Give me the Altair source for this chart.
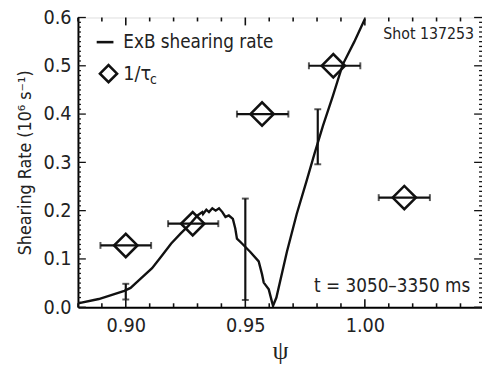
import altair as alt
import pandas as pd

# ExB shearing rate curve
curve_psi = [0.880, 0.8887, 0.8939, 0.8994, 0.902, 0.906, 0.911, 0.915, 0.919, 0.923, 0.9265,
             0.930, 0.932, 0.9323, 0.9337, 0.9348, 0.9362, 0.9376, 0.939, 0.9404, 0.9417,
             0.9431, 0.9448, 0.9458, 0.9465, 0.9486, 0.952, 0.9556, 0.957, 0.9577, 0.9598,
             0.9612, 0.9616, 0.963, 0.9674, 0.9715, 0.9756, 0.979, 0.9825, 0.9866, 0.9907,
             0.9955, 1.000]
curve_rate = [0.008, 0.017, 0.025, 0.034, 0.040, 0.058, 0.081, 0.106, 0.132, 0.153, 0.170,
              0.190, 0.197, 0.193, 0.202, 0.197, 0.205, 0.200, 0.205, 0.197, 0.187,
              0.190, 0.183, 0.163, 0.142, 0.132, 0.115, 0.095, 0.068, 0.051, 0.037,
              0.010, 0.003, 0.020, 0.115, 0.193, 0.261, 0.319, 0.376, 0.437, 0.502,
              0.549, 0.597]

# 1/tau_c points with horizontal error bars
pt_psi = [0.900, 0.928, 0.957, 0.9868, 1.0165]
pt_rate = [0.128, 0.173, 0.400, 0.500, 0.227]
pt_lo = [0.8894, 0.9177, 0.9465, 0.9766, 1.0058]
pt_hi = [0.9106, 0.9387, 0.9680, 0.9981, 1.0272]

# vertical error bars on the curve
ve_psi = [0.900, 0.950, 0.9803]
ve_lo = [0.016, 0.015, 0.296]
ve_hi = [0.0485, 0.225, 0.410]

x_major = [0.90, 0.95, 1.00]
x_minor = [0.88, 0.89, 0.91, 0.92, 0.93, 0.94, 0.96, 0.97, 0.98, 0.99, 1.01, 1.02, 1.03, 1.04]
y_major = [0.0, 0.1, 0.2, 0.3, 0.4, 0.5, 0.6]
y_minor = [round(i * 0.01, 2) for i in range(61) if i % 10 != 0]

W, H = 410, 294
FONT = "'Liberation Sans Narrow', 'DejaVu Sans Condensed', 'Roboto Condensed', 'Liberation Sans', sans-serif"

xs = alt.Scale(domain=[0.88, 1.049], nice=False, zero=False)
ys = alt.Scale(domain=[0.0, 0.6], nice=False)

curve_df = pd.DataFrame({"psi": curve_psi, "rate": curve_rate})
pt_df = pd.DataFrame({"psi": pt_psi, "rate": pt_rate, "lo": pt_lo, "hi": pt_hi})
ve_df = pd.DataFrame({"psi": ve_psi, "lo": ve_lo, "hi": ve_hi})

xaxis = alt.Axis(values=x_major, format=".2f", ticks=False, grid=False, domainColor="black",
                 domainWidth=2, labelFont=FONT, labelFontSize=20, labelColor="#222",
                 labelPadding=9, title="ψ", titleFont="Liberation Serif", titleFontSize=26,
                 titleFontWeight="normal", titlePadding=2, titleColor="#222")
yaxis = alt.Axis(values=y_major, format=".1f", ticks=False, grid=False, domainColor="black",
                 domainWidth=2, labelFont=FONT, labelFontSize=20, labelColor="#222",
                 labelPadding=7, title="Shearing Rate (10⁶ s⁻¹)", titleFont=FONT,
                 titleFontSize=18, titleFontWeight="normal", titlePadding=9, titleColor="#222")

base_curve = alt.Chart(curve_df).mark_line(color="#111", strokeWidth=2.4, clip=True).encode(
    x=alt.X("psi:Q", scale=xs, axis=xaxis),
    y=alt.Y("rate:Q", scale=ys, axis=yaxis),
)

hbar = alt.Chart(pt_df).mark_rule(color="#111", strokeWidth=2.2).encode(
    x=alt.X("lo:Q", scale=xs), x2="hi:Q", y=alt.Y("rate:Q", scale=ys))
hcap_lo = alt.Chart(pt_df).mark_tick(color="#111", thickness=2, size=7, orient="vertical").encode(
    x=alt.X("lo:Q", scale=xs), y=alt.Y("rate:Q", scale=ys))
hcap_hi = alt.Chart(pt_df).mark_tick(color="#111", thickness=2, size=7, orient="vertical").encode(
    x=alt.X("hi:Q", scale=xs), y=alt.Y("rate:Q", scale=ys))
diam = alt.Chart(pt_df).mark_point(shape="diamond", size=560, filled=False, color="#111",
                                   strokeWidth=2.6, opacity=1).encode(
    x=alt.X("psi:Q", scale=xs), y=alt.Y("rate:Q", scale=ys))

vbar = alt.Chart(ve_df).mark_rule(color="#111", strokeWidth=2.2).encode(
    x=alt.X("psi:Q", scale=xs), y=alt.Y("lo:Q", scale=ys), y2="hi:Q")
vcap_lo = alt.Chart(ve_df).mark_tick(color="#111", thickness=2, size=7, orient="horizontal").encode(
    x=alt.X("psi:Q", scale=xs), y=alt.Y("lo:Q", scale=ys))
vcap_hi = alt.Chart(ve_df).mark_tick(color="#111", thickness=2, size=7, orient="horizontal").encode(
    x=alt.X("psi:Q", scale=xs), y=alt.Y("hi:Q", scale=ys))

# inward ticks on all four sides
xmaj_df = pd.DataFrame({"v": x_major})
xmin_df = pd.DataFrame({"v": x_minor})
ymaj_df = pd.DataFrame({"v": y_major})
ymin_df = pd.DataFrame({"v": y_minor})

def xticks(df, length):
    b = alt.Chart(df).mark_rule(color="#111", strokeWidth=1.6).encode(
        x=alt.X("v:Q", scale=xs), y=alt.value(H), y2=alt.value(H - length))
    t = alt.Chart(df).mark_rule(color="#111", strokeWidth=1.6).encode(
        x=alt.X("v:Q", scale=xs), y=alt.value(0), y2=alt.value(length))
    return b + t

def yticks(df, length):
    l = alt.Chart(df).mark_rule(color="#111", strokeWidth=1.3).encode(
        y=alt.Y("v:Q", scale=ys), x=alt.value(0), x2=alt.value(length))
    r = alt.Chart(df).mark_rule(color="#111", strokeWidth=1.3).encode(
        y=alt.Y("v:Q", scale=ys), x=alt.value(W), x2=alt.value(W - length))
    return l + r

ticks = xticks(xmaj_df, 8) + xticks(xmin_df, 4) + yticks(ymaj_df, 8) + yticks(ymin_df, 3)

# legend and annotations
leg_line = alt.Chart(pd.DataFrame({"a": [0]})).mark_rule(color="#111", strokeWidth=2.6).encode(
    x=alt.value(19), x2=alt.value(36), y=alt.value(25))
leg_diam = alt.Chart(pd.DataFrame({"a": [0]})).mark_point(shape="diamond", size=300, filled=False,
                                                          color="#111", strokeWidth=2.6, opacity=1).encode(
    x=alt.value(31), y=alt.value(57))

def label(txt, x, y, size=20, align="left"):
    return alt.Chart(pd.DataFrame({"t": [txt]})).mark_text(
        font=FONT, fontSize=size, align=align, baseline="middle", color="#222").encode(
        text="t:N", x=alt.value(x), y=alt.value(y))

texts = (label("ExB shearing rate", 46, 25, size=19) + label("1/τ", 46, 57) + label("c", 73, 63, size=14)
         + label("Shot 137253", 402, 17, size=16, align="right")
         + label("t = 3050–3350 ms", 398, 273, size=19, align="right"))

chart = alt.layer(ticks, base_curve, hbar, hcap_lo, hcap_hi, diam, vbar, vcap_lo, vcap_hi,
                  leg_line, leg_diam, texts).properties(
    width=W, height=H,
    autosize=alt.AutoSizeParams(type="none"),
    padding={"left": 71, "top": 7, "right": 0, "bottom": 57},
).configure_view(stroke="#111", strokeWidth=2).configure(background="white")

chart.save("out.html", embed_options={"renderer": "svg", "actions": False})
